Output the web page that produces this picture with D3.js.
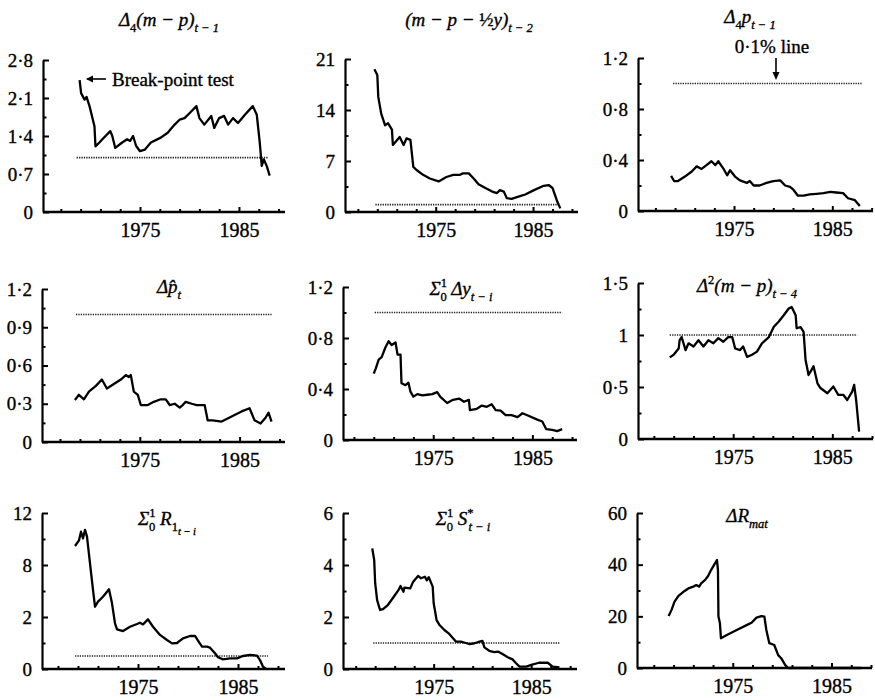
<!DOCTYPE html>
<html><head><meta charset="utf-8">
<script src="https://cdn.jsdelivr.net/npm/d3@7"></script>
<style>body{margin:0;background:#fff}svg{display:block}text{stroke:#000;stroke-width:0.35px;fill:#000}</style>
</head><body>
<svg id="c" width="875" height="700"></svg>
<script>
// ---------- DATA ----------
const xTickYears = [1967,1969,1971,1973,1975,1977,1979,1981,1983,1985,1987,1989];
const xLabelYears = [1975,1985];
const criticalValue = 1;

const s1 = [[1968.9,2.43],[1969.05,2.19],[1969.4,2.07],[1969.6,2.12],[1969.9,1.95],[1970.4,1.58],[1970.5,1.21],[1970.9,1.28],[1971.2,1.34],[1972.0,1.49],[1972.2,1.40],[1972.5,1.18],[1973.2,1.28],[1973.7,1.34],[1974.0,1.31],[1974.3,1.40],[1974.6,1.22],[1975.0,1.12],[1975.5,1.15],[1976.1,1.28],[1977.1,1.37],[1977.8,1.46],[1978.5,1.61],[1979.0,1.70],[1979.5,1.73],[1980.0,1.82],[1980.7,1.95],[1981.0,1.73],[1981.5,1.61],[1982.2,1.77],[1982.5,1.55],[1983.0,1.73],[1983.5,1.77],[1983.9,1.61],[1984.4,1.73],[1984.9,1.64],[1985.6,1.79],[1986.4,1.95],[1986.8,1.79],[1987.1,1.28],[1987.3,0.85],[1987.5,0.97],[1987.8,0.85],[1988.1,0.67]];
const s2 = [[1968.7,19.6],[1969.0,18.8],[1969.1,15.8],[1969.4,13.5],[1969.8,11.9],[1970.1,12.2],[1970.5,11.3],[1970.6,9.2],[1971.3,10.3],[1971.7,9.2],[1972.0,10.1],[1972.4,9.9],[1972.7,6.2],[1973.0,5.8],[1973.7,5.1],[1974.4,4.6],[1975.3,4.2],[1976.1,4.8],[1976.8,5.1],[1977.5,5.1],[1977.8,5.3],[1978.4,5.3],[1978.9,4.6],[1979.4,3.8],[1980.1,3.3],[1980.8,2.8],[1981.3,2.6],[1981.6,3.0],[1982.0,2.8],[1982.3,1.9],[1982.8,1.8],[1983.5,2.1],[1984.2,2.4],[1985.1,3.0],[1986.1,3.6],[1986.6,3.7],[1987.0,3.3],[1987.5,1.4],[1987.8,0.5]];
const s3 = [[1968.6,0.275],[1968.9,0.235],[1969.3,0.235],[1970.0,0.27],[1970.7,0.31],[1971.2,0.35],[1971.7,0.33],[1972.2,0.36],[1972.7,0.39],[1973.1,0.36],[1973.4,0.39],[1973.9,0.335],[1974.3,0.28],[1974.6,0.32],[1975.1,0.27],[1975.6,0.24],[1976.3,0.22],[1976.6,0.235],[1977.0,0.20],[1977.6,0.20],[1978.3,0.22],[1979.0,0.235],[1979.7,0.24],[1980.2,0.20],[1980.7,0.19],[1981.0,0.17],[1981.5,0.12],[1982.1,0.12],[1982.7,0.13],[1983.4,0.135],[1984.1,0.14],[1984.8,0.15],[1985.4,0.145],[1986.1,0.14],[1986.6,0.10],[1987.3,0.085],[1987.8,0.04]];
const s4 = [[1968.5,0.33],[1968.9,0.37],[1969.4,0.335],[1969.9,0.395],[1970.6,0.44],[1971.2,0.49],[1971.7,0.42],[1972.4,0.455],[1973.1,0.49],[1973.6,0.525],[1973.9,0.51],[1974.1,0.525],[1974.4,0.395],[1974.8,0.37],[1975.1,0.29],[1975.8,0.29],[1976.4,0.315],[1977.1,0.335],[1977.6,0.335],[1978.0,0.29],[1978.5,0.30],[1979.0,0.27],[1979.3,0.29],[1979.6,0.315],[1980.2,0.30],[1980.7,0.29],[1981.5,0.29],[1981.8,0.17],[1982.3,0.17],[1983.2,0.16],[1984.2,0.20],[1985.2,0.24],[1986.0,0.265],[1986.5,0.17],[1987.1,0.145],[1987.6,0.19],[1987.9,0.23],[1988.2,0.16]];
const s5 = [[1969.0,0.52],[1969.2,0.56],[1969.5,0.63],[1969.8,0.65],[1970.2,0.73],[1970.5,0.775],[1970.8,0.745],[1971.2,0.765],[1971.4,0.67],[1971.7,0.67],[1971.8,0.445],[1972.2,0.43],[1972.5,0.45],[1972.7,0.38],[1973.0,0.34],[1973.4,0.36],[1973.9,0.35],[1974.4,0.355],[1974.9,0.36],[1975.4,0.375],[1975.7,0.34],[1976.4,0.29],[1977.0,0.315],[1977.6,0.325],[1978.1,0.30],[1978.6,0.315],[1978.7,0.235],[1979.4,0.245],[1979.9,0.27],[1980.4,0.26],[1980.9,0.28],[1981.3,0.235],[1981.8,0.23],[1982.3,0.195],[1982.9,0.195],[1983.5,0.18],[1984.0,0.21],[1984.6,0.19],[1985.5,0.16],[1986.0,0.145],[1986.4,0.085],[1987.0,0.08],[1987.5,0.07],[1988.0,0.085]];
const s6 = [[1968.6,0.785],[1969.0,0.81],[1969.5,0.87],[1969.6,0.95],[1969.8,0.98],[1970.2,0.855],[1970.5,0.92],[1971.0,0.89],[1971.5,0.95],[1972.0,0.89],[1972.5,0.95],[1973.0,0.92],[1973.5,0.97],[1974.0,0.935],[1974.5,0.98],[1974.9,0.98],[1975.2,0.87],[1975.7,0.855],[1976.0,0.89],[1976.4,0.79],[1976.9,0.81],[1977.4,0.84],[1977.9,0.92],[1978.6,0.98],[1979.1,1.08],[1979.6,1.13],[1980.1,1.19],[1980.6,1.255],[1980.9,1.27],[1981.3,1.19],[1981.4,1.065],[1981.8,1.075],[1982.1,1.03],[1982.3,0.76],[1982.6,0.615],[1982.9,0.665],[1983.1,0.70],[1983.5,0.535],[1983.8,0.49],[1984.5,0.44],[1985.1,0.505],[1985.6,0.425],[1986.1,0.425],[1986.5,0.375],[1987.0,0.455],[1987.2,0.52],[1987.4,0.375],[1987.7,0.07]];
const s7 = [[1968.7,9.46],[1969.1,9.9],[1969.3,10.56],[1969.5,10.05],[1969.7,10.7],[1969.9,10.18],[1970.2,8.13],[1970.5,6.08],[1970.7,4.79],[1971.0,5.18],[1971.5,5.56],[1972.1,6.13],[1972.4,5.05],[1972.7,3.51],[1972.9,3.05],[1973.5,2.92],[1974.2,3.25],[1974.9,3.46],[1975.2,3.56],[1975.5,3.43],[1976.0,3.82],[1976.5,3.25],[1977.2,2.62],[1977.9,2.23],[1978.4,1.97],[1978.9,2.0],[1979.5,2.36],[1980.2,2.54],[1980.7,2.54],[1981.0,2.18],[1981.4,1.72],[1981.9,1.72],[1982.2,1.64],[1982.7,1.21],[1983.0,0.90],[1983.5,0.745],[1984.2,0.82],[1984.9,0.82],[1985.5,1.0],[1986.2,1.08],[1986.9,1.03],[1987.2,0.69],[1987.5,0.18],[1987.8,0.0]];
const s8 = [[1968.7,4.64],[1968.9,4.19],[1969.0,3.30],[1969.2,2.65],[1969.5,2.27],[1969.8,2.30],[1970.3,2.46],[1970.8,2.72],[1971.4,3.04],[1971.6,3.19],[1971.9,2.97],[1972.0,3.13],[1972.6,3.10],[1972.9,3.36],[1973.4,3.58],[1973.7,3.49],[1974.1,3.55],[1974.3,3.41],[1974.5,3.53],[1974.9,3.17],[1975.0,2.53],[1975.3,1.88],[1975.6,1.69],[1976.1,1.50],[1976.6,1.35],[1977.3,1.05],[1977.8,1.05],[1978.3,1.0],[1978.7,0.96],[1979.2,0.99],[1979.7,1.05],[1980.0,1.08],[1980.2,0.83],[1980.7,0.70],[1981.2,0.65],[1981.6,0.67],[1982.1,0.565],[1982.6,0.45],[1983.1,0.37],[1983.4,0.24],[1983.8,0.09],[1984.5,0.09],[1985.1,0.17],[1985.8,0.24],[1986.7,0.24],[1987.2,0.09],[1987.9,0.06]];
const s9 = [[1968.5,20.1],[1968.8,22.5],[1969.1,25.7],[1969.5,27.9],[1970.0,29.5],[1970.5,30.8],[1971.0,31.5],[1971.3,32.1],[1971.6,31.5],[1971.8,32.8],[1972.2,34.1],[1972.5,35.6],[1972.8,37.9],[1973.2,40.5],[1973.4,41.8],[1973.5,37.9],[1973.55,19.9],[1973.7,17.3],[1973.8,11.5],[1974.4,12.8],[1975.4,14.7],[1976.4,16.6],[1976.9,17.5],[1977.4,19.5],[1977.9,20.1],[1978.2,19.9],[1978.4,14.7],[1978.7,9.6],[1979.2,8.9],[1979.6,5.0],[1979.9,3.8],[1980.3,1.2],[1980.6,0],[1988.0,0]];

const yTicks1 = [0,0.7,1.4,2.1,2.8];
const yTicks2 = [0,7,14,21];
const yTicks3 = [0,0.4,0.8,1.2];
const yTicks4 = [0,0.3,0.6,0.9,1.2];
const yTicks5 = [0,0.4,0.8,1.2];
const yTicks6 = [0,0.5,1,1.5];
const yTicks7 = [0,4,8,12];
const yTickLabels7 = ["0","2","8","12"];
const yTicks8 = [0,2,4,6];
const yTicks9 = [0,20,40,60];

// 0.1% line extents (years); null = not visible
const critSpan = [[1968.6,1988.0],[1968.8,1987.6],[1968.8,1988.1],[1968.6,1988.2],[1969.1,1988.0],[1968.6,1987.5],[1968.7,1988.0],[1968.8,1988.0],null];

// ---------- LAYOUT ----------
const serif = "'Liberation Serif','Times New Roman',serif";
const panels = [
 {d:s1, yt:yTicks1, left:43, right:285, top:60, bottom:212, x0:1965.2, x1:1989.65},
 {d:s2, yt:yTicks2, left:345, right:578, top:59, bottom:212, x0:1965.68, x1:1989.62},
 {d:s3, yt:yTicks3, left:638, right:873, top:58, bottom:211, x0:1965.23, x1:1989.14},
 {d:s4, yt:yTicks4, left:42, right:285, top:289, bottom:442, x0:1965.2, x1:1989.55},
 {d:s5, yt:yTicks5, left:343, right:577, top:287, bottom:440, x0:1965.9, x1:1989.5},
 {d:s6, yt:yTicks6, left:638, right:873, top:283, bottom:439, x0:1965.4, x1:1989.1},
 {d:s7, yt:yTicks7, yl:yTickLabels7, left:42, right:285, top:513, bottom:669, x0:1965.4, x1:1989.7},
 {d:s8, yt:yTicks8, left:343, right:577, top:513, bottom:669, x0:1965.7, x1:1989.7},
 {d:s9, yt:yTicks9, left:637, right:872, top:513, bottom:668, x0:1965.3, x1:1989.1}
];
const titles = [
 {x:169, y:26, segs:[{t:"Δ",it:1},{t:"4",p:"sub"},{t:"(m − p)",it:1},{t:"t − 1",it:1,p:"sub"}]},
 {x:469, y:26, segs:[{t:"(m − p − ",it:1},{t:"½"},{t:"y)",it:1},{t:"t − 2",it:1,p:"sub"}]},
 {x:750, y:23, segs:[{t:"Δ",it:1},{t:"4",p:"sub"},{t:"p",it:1},{t:"t − 1",it:1,p:"sub"}]},
 {x:169, y:293, segs:[{t:"Δ",it:1},{t:"p\u0302",it:1},{t:"t",it:1,p:"sub"}]},
 {x:461, y:295, segs:[{t:"Σ",it:1},{t:"1",p:"sup"},{t:"0",p:"sub",dx:-6.5},{t:" Δy",it:1},{t:"t − i",it:1,p:"sub"}]},
 {x:747, y:292, segs:[{t:"Δ",it:1},{t:"2",p:"sup"},{t:"(m − p)",it:1},{t:"t − 4",it:1,p:"sub"}]},
 {x:167, y:525, segs:[{t:"Σ",it:1},{t:"1",p:"sup"},{t:"0",p:"sub",dx:-6.5},{t:" R",it:1},{t:"1",p:"sub"},{t:"t − i",it:1,p:"subsub"}]},
 {x:463, y:525, segs:[{t:"Σ",it:1},{t:"1",p:"sup"},{t:"0",p:"sub",dx:-6.5},{t:" S",it:1},{t:"*",p:"sup"},{t:"t − i",it:1,p:"sub",dx:-5}]},
 {x:747, y:522, segs:[{t:"Δ",it:1},{t:"R",it:1},{t:"mat",it:1,p:"sub"}]}
];

const svg = d3.select("#c");
const fmt = v => String(v).replace(".", "·");

panels.forEach((P, i) => {
  const x = d3.scaleLinear().domain([P.x0, P.x1]).range([P.left, P.right]);
  const ymax = P.yt[P.yt.length-1];
  const y = d3.scaleLinear().domain([0, ymax]).range([P.bottom, P.top]);
  const g = svg.append("g");

  // critical (0.1%) dotted line
  const cs = critSpan[i];
  if (cs) g.append("path")
    .attr("d", d3.line()([[x(cs[0]), y(criticalValue)], [x(cs[1]), y(criticalValue)]]))
    .attr("stroke", "#222").attr("stroke-width", 1.7).attr("stroke-dasharray", "1.3,1.1").attr("fill", "none");

  // series
  g.append("path").datum(P.d)
    .attr("d", d3.line().x(d => x(d[0])).y(d => y(d[1])))
    .attr("fill", "none").attr("stroke", "#000").attr("stroke-width", 2.3).attr("stroke-linejoin", "round");

  // minor y ticks
  const minor = [];
  for (let k = 0; k < P.yt.length - 1; k++) minor.push((P.yt[k] + P.yt[k+1]) / 2);
  g.append("g").attr("transform", `translate(${P.left},0)`)
    .call(d3.axisLeft(y).tickValues(minor).tickSize(-3.5).tickFormat(""))
    .call(a => a.select(".domain").remove())
    .selectAll("line").attr("stroke-width", 2);

  // major y axis
  const labels = P.yl || P.yt.map(fmt);
  const yAx = g.append("g").attr("transform", `translate(${P.left},0)`)
    .call(d3.axisLeft(y).tickValues(P.yt).tickSize(-6).tickSizeOuter(0).tickPadding(10)
      .tickFormat((d, k) => labels[k]));
  yAx.select(".domain").attr("stroke-width", 2.2);
  yAx.selectAll("line").attr("stroke-width", 2);
  yAx.selectAll("text").style("font-family", serif).style("font-size", "19px").attr("fill", "#000");

  // x axis minor ticks
  const xAx = g.append("g").attr("transform", `translate(0,${P.bottom})`)
    .call(d3.axisBottom(x).tickValues(xTickYears.filter(v => !xLabelYears.includes(v))).tickSize(-3).tickSizeOuter(0).tickFormat(""));
  xAx.select(".domain").attr("d", `M${P.left},0H${P.right}`).attr("stroke-width", 2.4);
  xAx.selectAll("line").attr("stroke-width", 2);

  const xAx2 = g.append("g").attr("transform", `translate(0,${P.bottom})`)
    .call(d3.axisBottom(x).tickValues(xLabelYears).tickSize(-5).tickPadding(11).tickFormat(d3.format("d")));
  xAx2.select(".domain").remove();
  xAx2.selectAll("line").attr("stroke-width", 2);
  xAx2.selectAll("text").style("font-family", serif).style("font-size", "20px").attr("fill", "#000");
});

// titles
titles.forEach(T => {
  const size = 19;
  const text = svg.append("text").attr("x", T.x).attr("y", T.y).attr("text-anchor", "middle")
    .style("font-family", serif).style("font-size", size + "px");
  let cur = 0;
  T.segs.forEach(s => {
    const off = s.p === "sub" ? size*0.3 : s.p === "sup" ? -size*0.42 : s.p === "subsub" ? size*0.5 : 0;
    const ts = text.append("tspan").text(s.t).attr("dy", off - cur);
    cur = off;
    if (s.p) ts.style("font-size", (s.p === "subsub" ? size*0.55 : size*0.66) + "px");
    if (s.it) ts.style("font-style", "italic");
    if (s.dx) ts.attr("dx", s.dx);
  });
});

// annotations
const ann = svg.append("g").attr("fill", "#000");
ann.append("path").attr("d", "M87,79H106").attr("stroke", "#000").attr("stroke-width", 1.6);
ann.append("path").attr("d", "M86,79L93,75.5L93,82.5Z");
ann.append("text").attr("x", 112).attr("y", 86).text("Break-point test")
  .style("font-family", serif).style("font-size", "19px");
ann.append("text").attr("x", 772).attr("y", 53).attr("text-anchor", "middle").text("0·1% line")
  .style("font-family", serif).style("font-size", "19px");
ann.append("path").attr("d", "M776,58V78").attr("stroke", "#000").attr("stroke-width", 1.6);
ann.append("path").attr("d", "M776,80L772.5,72L779.5,72Z");
</script>
</body></html>
